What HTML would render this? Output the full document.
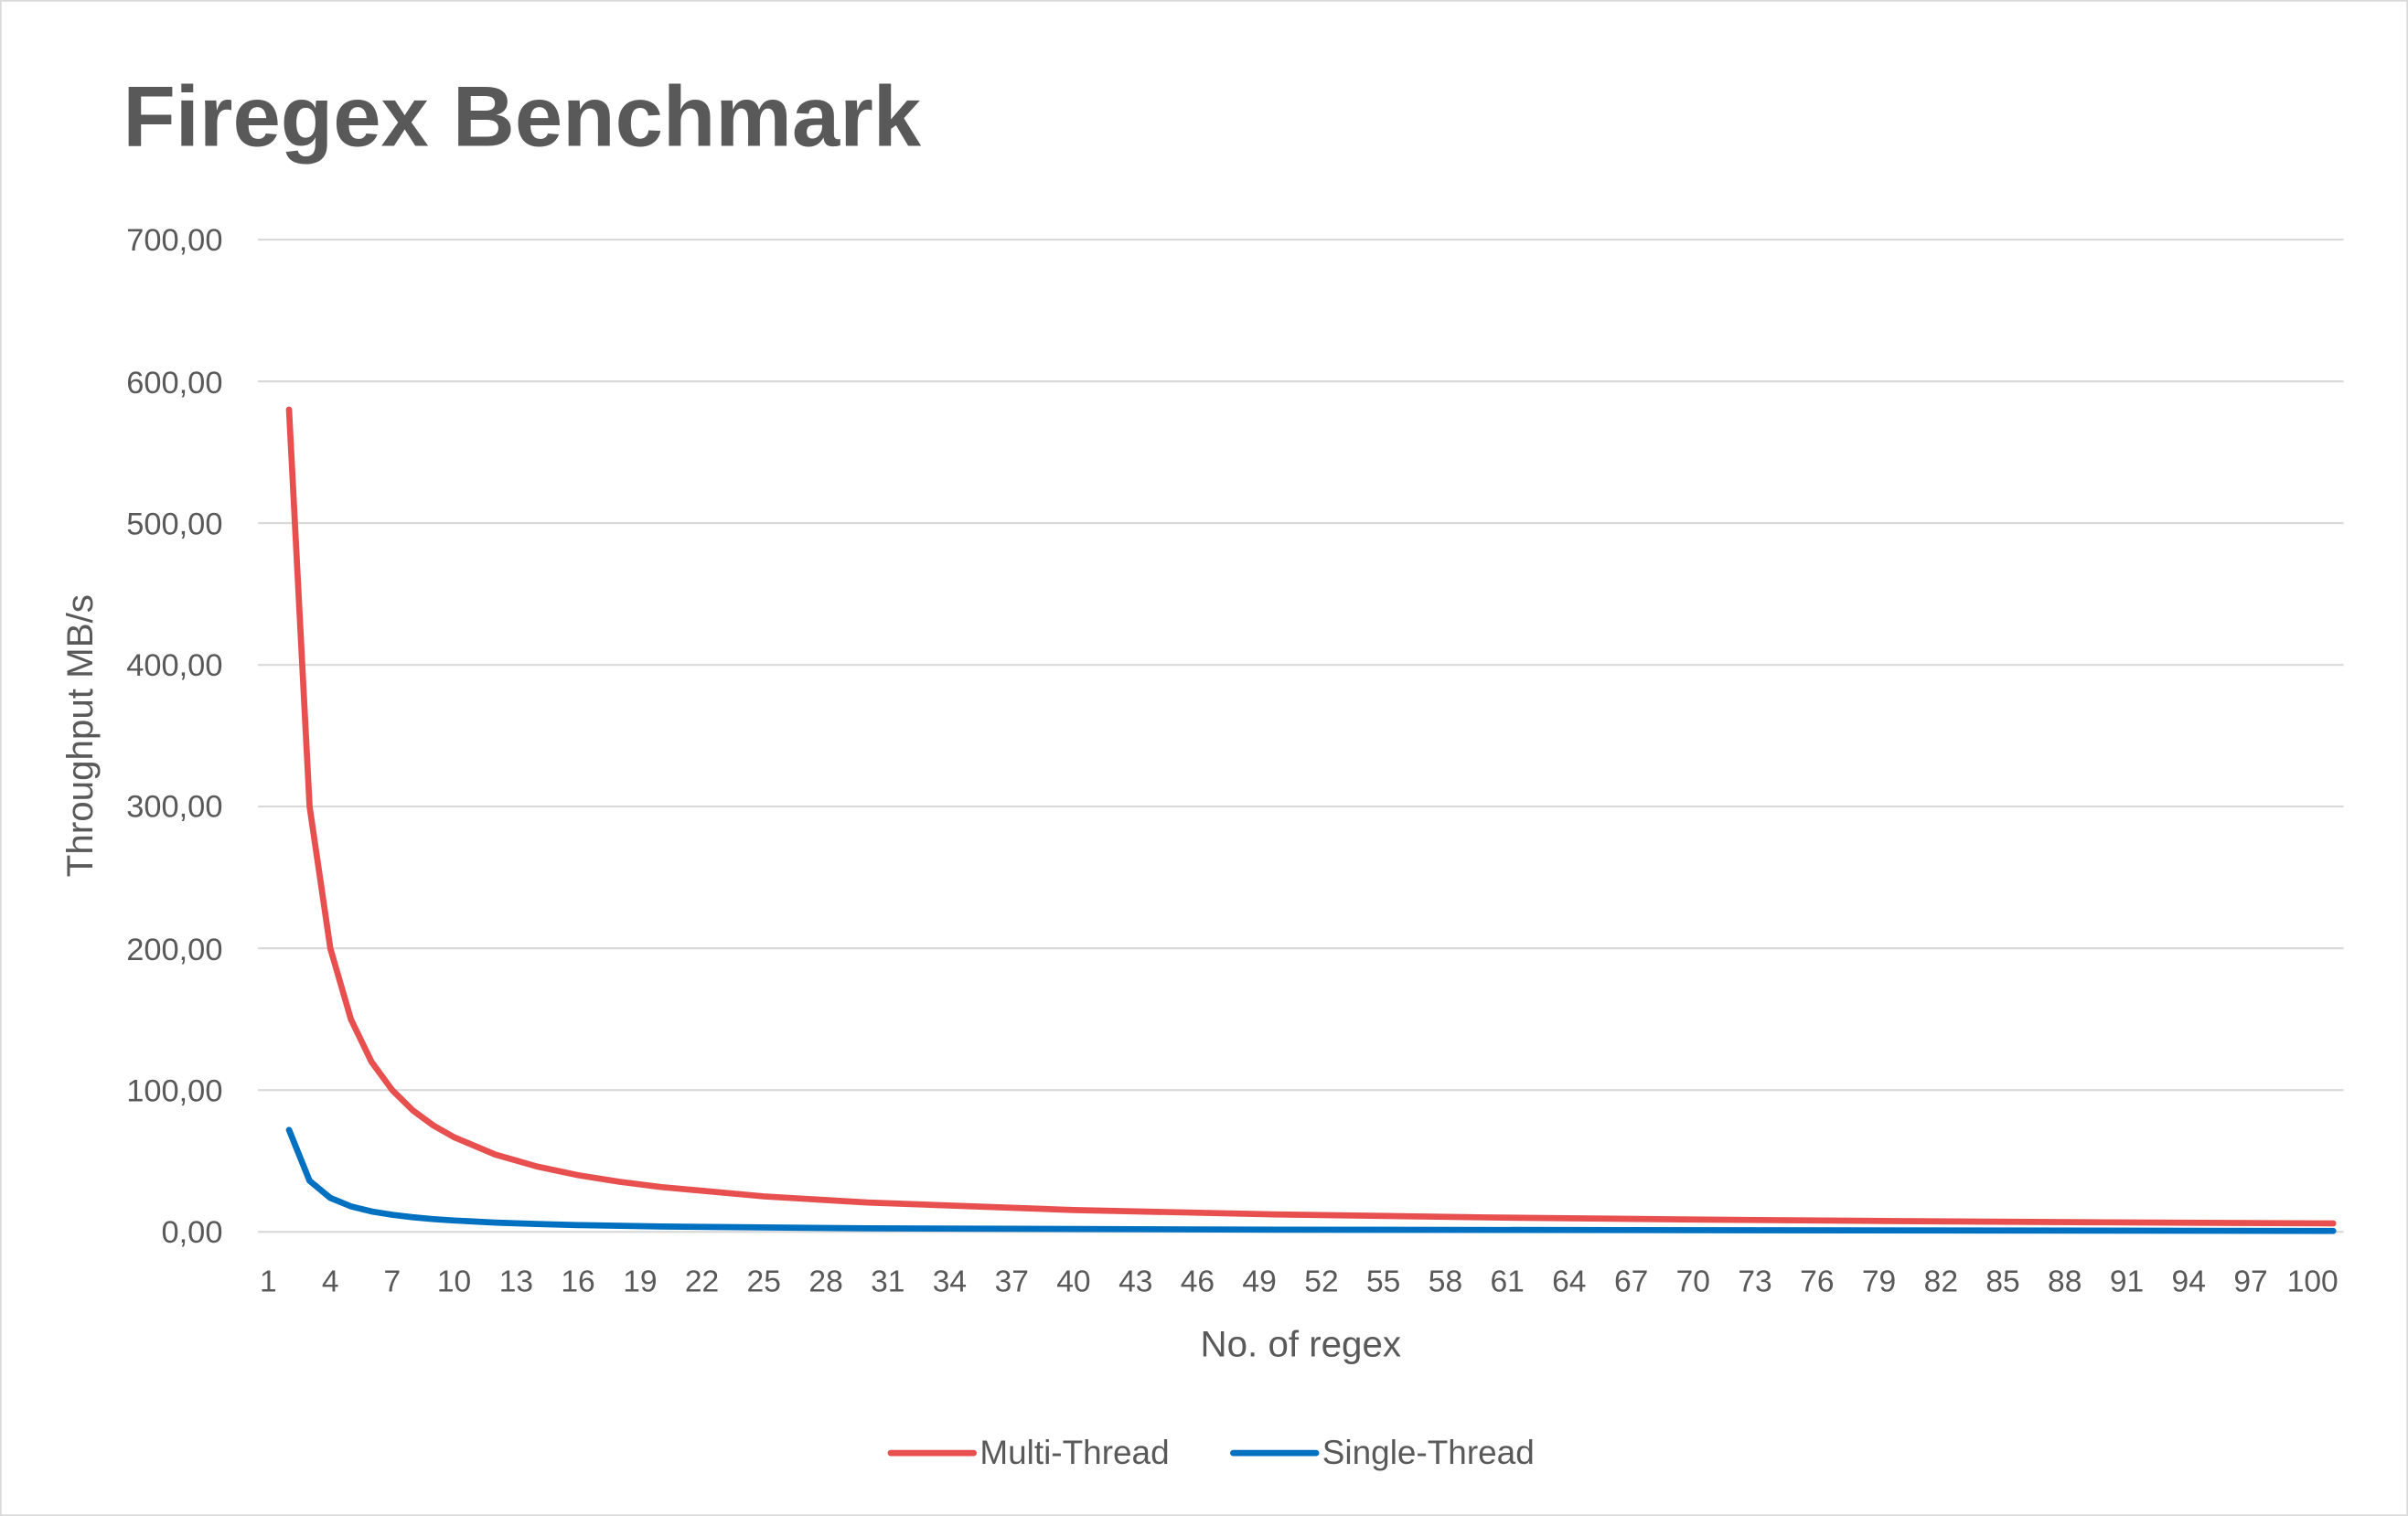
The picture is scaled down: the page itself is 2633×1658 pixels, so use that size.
<!DOCTYPE html>
<html><head><meta charset="utf-8"><style>
html,body{margin:0;padding:0;background:#fff;}
svg{display:block;}
text{font-family:"Liberation Sans",sans-serif;fill:#595959;}
</style></head><body>
<svg width="2633" height="1658" viewBox="0 0 1568 987" preserveAspectRatio="none" xmlns="http://www.w3.org/2000/svg">
<rect x="0.5" y="0.5" width="1567" height="986" fill="#fff" stroke="#d9d9d9" stroke-width="1"/>
<text x="80" y="95" font-size="56" font-weight="bold" fill="#595959">Firegex Benchmark</text>
<g stroke="#d9d9d9" stroke-width="1.3">
<line x1="168" x2="1526" y1="156" y2="156"/>
<line x1="168" x2="1526" y1="248.3" y2="248.3"/>
<line x1="168" x2="1526" y1="340.6" y2="340.6"/>
<line x1="168" x2="1526" y1="432.9" y2="432.9"/>
<line x1="168" x2="1526" y1="525.1" y2="525.1"/>
<line x1="168" x2="1526" y1="617.4" y2="617.4"/>
<line x1="168" x2="1526" y1="709.7" y2="709.7"/>
<line x1="168" x2="1526" y1="802" y2="802"/>
</g>
<g font-size="20.5" text-anchor="end">
<text x="145" y="163">700,00</text>
<text x="145" y="256">600,00</text>
<text x="145" y="348">500,00</text>
<text x="145" y="440">400,00</text>
<text x="145" y="532">300,00</text>
<text x="145" y="625">200,00</text>
<text x="145" y="717">100,00</text>
<text x="145" y="809">0,00</text>
</g>
<text transform="translate(60,479) rotate(-90)" font-size="24" text-anchor="middle">Throughput MB/s</text>
<g font-size="20" text-anchor="middle">
<text x="174.7" y="841">1</text><text x="215.1" y="841">4</text><text x="255.4" y="841">7</text><text x="295.7" y="841">10</text><text x="336.1" y="841">13</text><text x="376.4" y="841">16</text><text x="416.8" y="841">19</text><text x="457.1" y="841">22</text><text x="497.4" y="841">25</text><text x="537.8" y="841">28</text><text x="578.1" y="841">31</text><text x="618.4" y="841">34</text><text x="658.8" y="841">37</text><text x="699.1" y="841">40</text><text x="739.5" y="841">43</text><text x="779.8" y="841">46</text><text x="820.1" y="841">49</text><text x="860.5" y="841">52</text><text x="900.8" y="841">55</text><text x="941.2" y="841">58</text><text x="981.5" y="841">61</text><text x="1021.8" y="841">64</text><text x="1062.2" y="841">67</text><text x="1102.5" y="841">70</text><text x="1142.8" y="841">73</text><text x="1183.2" y="841">76</text><text x="1223.5" y="841">79</text><text x="1263.9" y="841">82</text><text x="1304.2" y="841">85</text><text x="1344.5" y="841">88</text><text x="1384.9" y="841">91</text><text x="1425.2" y="841">94</text><text x="1465.6" y="841">97</text><text x="1505.9" y="841">100</text>
</g>
<text x="847" y="883" font-size="24" text-anchor="middle">No. of regex</text>
<polyline fill="none" stroke="#E85050" stroke-width="4" stroke-linejoin="round" stroke-linecap="round" points="188.2,266.7 201.6,525.1 215.1,617.4 228.5,663.6 241.9,691.3 255.4,709.7 268.8,722.9 282.3,732.8 295.7,740.4 322.6,751.7 349.5,759.4 376.4,765.1 403.3,769.4 430.2,772.8 497.4,778.9 564.7,782.9 699.1,787.8 833.6,790.7 968,792.6 1102.5,794 1237,795 1371.4,795.8 1519.3,796.5"/>
<polyline fill="none" stroke="#0070C0" stroke-width="4" stroke-linejoin="round" stroke-linecap="round" points="188.2,735.6 201.6,768.8 215.1,779.9 228.5,785.4 241.9,788.7 255.4,790.9 268.8,792.5 282.3,793.7 295.7,794.6 322.6,796 349.5,796.9 376.4,797.6 430.2,798.5 564.7,799.7 833.6,800.6 1519.3,801.4"/>
<line x1="580" x2="634" y1="946" y2="946" stroke="#E85050" stroke-width="4" stroke-linecap="round"/>
<text x="638" y="953" font-size="22">Multi-Thread</text>
<line x1="803" x2="857" y1="946" y2="946" stroke="#0070C0" stroke-width="4" stroke-linecap="round"/>
<text x="861" y="953" font-size="22">Single-Thread</text>
</svg>
</body></html>
